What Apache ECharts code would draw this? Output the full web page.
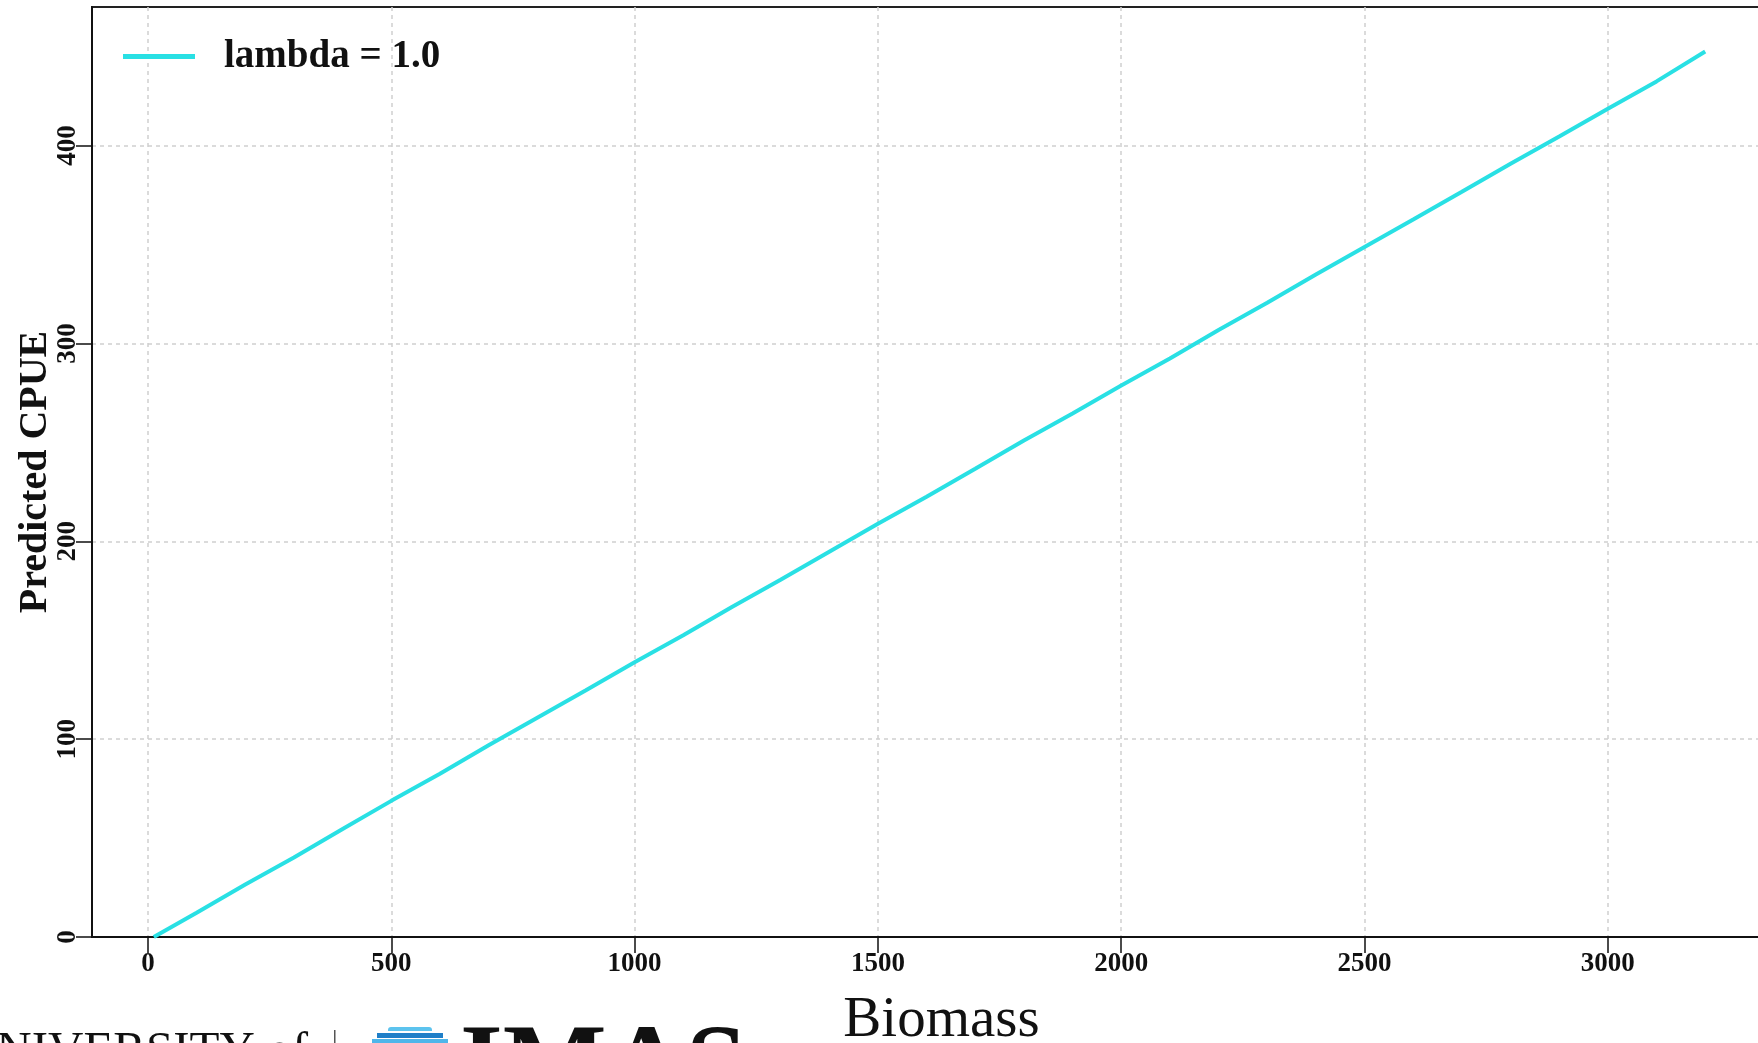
<!DOCTYPE html>
<html>
<head>
<meta charset="utf-8">
<style>
  html, body { margin: 0; padding: 0; background: #ffffff; }
  #chart { width: 1758px; height: 1043px; }
</style>
<script src="https://cdn.jsdelivr.net/npm/echarts@6/dist/echarts.min.js"></script>
</head>
<body>
<div id="chart"></div>
<script>
// ---- data ----
const biomass = [12, 100, 200, 300, 400, 500, 600, 700, 800, 900, 1000, 1100, 1200, 1300, 1400, 1500,
  1600, 1700, 1800, 1900, 2000, 2100, 2200, 2300, 2400, 2500, 2600, 2700, 2800, 2900, 3000, 3100, 3200];
const predictedCPUE = [0, 12.3, 26.5, 40.2, 54.6, 68.8, 82.5, 96.9, 110.8, 124.7, 138.9, 152.5, 166.8, 180.6, 194.7, 208.8,
  222.5, 236.6, 250.9, 264.6, 278.7, 292.4, 306.8, 320.5, 334.8, 348.7, 362.6, 376.6, 390.8, 404.5, 418.6, 432.4, 447.5];
const xTicks = [0, 500, 1000, 1500, 2000, 2500, 3000];
const yTicks = [0, 100, 200, 300, 400];
const seriesName = 'lambda = 1.0';
const xTitle = 'Biomass';
const yTitle = 'Predicted CPUE';

const serif = '"Liberation Serif", "Times New Roman", serif';
const lineColor = '#29E0E4';

const chart = echarts.init(document.getElementById('chart'), null, { renderer: 'canvas' });

chart.setOption({
  backgroundColor: '#ffffff',
  animation: false,
  grid: {
    left: 92, right: -9, top: 7, bottom: 106,
    outerBoundsMode: 'none', containLabel: false,
    show: true, borderColor: '#222', borderWidth: 2, backgroundColor: 'transparent'
  },
  legend: {
    left: 123, top: 37, padding: 0,
    icon: 'rect', itemWidth: 72, itemHeight: 5,
    textStyle: { fontFamily: serif, fontWeight: 'bold', fontSize: 39, color: '#111', padding: [0, 0, 0, 24] },
    data: [seriesName]
  },
  xAxis: {
    type: 'value', min: -115, max: 3327,
    name: xTitle, nameLocation: 'middle', nameGap: 56, nameMoveOverlap: false,
    nameTextStyle: { fontFamily: serif, fontSize: 57, color: '#111', verticalAlign: 'top', padding: [0, 0, 0, 24] },
    axisLine: { show: true, onZero: false, lineStyle: { color: '#111', width: 2 } },
    axisTick: { show: true, length: 16, customValues: xTicks, lineStyle: { color: '#111', width: 1.5 } },
    axisLabel: { customValues: xTicks, margin: 14, fontFamily: serif, fontWeight: 'bold', fontSize: 27, color: '#111',
      formatter: v => String(v) },
    splitLine: { show: true, lineStyle: { color: '#cfcfcf', width: 1.5, type: [4, 4] } }
  },
  yAxis: {
    type: 'value', min: 0, max: 470,
    name: yTitle, nameLocation: 'middle', nameGap: 36, nameRotate: 90, nameMoveOverlap: false,
    nameTextStyle: { fontFamily: serif, fontWeight: 'bold', fontSize: 40, color: '#111' },
    axisLine: { show: true, onZero: false, lineStyle: { color: '#111', width: 2 } },
    axisTick: { show: true, length: 16, customValues: yTicks, lineStyle: { color: '#111', width: 1.5 } },
    axisLabel: { customValues: yTicks, rotate: 90, margin: 10, fontFamily: serif, fontWeight: 'bold', fontSize: 27, color: '#111',
      formatter: v => String(v) },
    splitLine: { show: true, lineStyle: { color: '#cfcfcf', width: 1.5, type: [4, 4] } }
  },
  series: [{
    name: seriesName,
    type: 'line',
    data: biomass.map((b, i) => [b, predictedCPUE[i]]),
    showSymbol: false, symbol: 'none',
    lineStyle: { color: lineColor, width: 4 },
    itemStyle: { color: lineColor }
  }],
  graphic: [
    { type: 'text', style: { text: 'UNIVERSITY of', x: 308, y: 1028, align: 'right', verticalAlign: 'top',
      font: '49px ' + serif, fill: '#111' } },
    { type: 'rect', shape: { x: 334, y: 1030, width: 1.5, height: 13 }, style: { fill: '#555' } },
    { type: 'rect', shape: { x: 388, y: 1027, width: 44, height: 4, r: [3, 3, 0, 0] }, style: { fill: '#5cc3ee' } },
    { type: 'rect', shape: { x: 377, y: 1033, width: 66, height: 5 }, style: { fill: '#1f7fc8' } },
    { type: 'rect', shape: { x: 372, y: 1039, width: 76, height: 4 }, style: { fill: '#4fb6ea' } },
    { type: 'text', style: { text: 'IMAS', x: 460, y: 1017, align: 'left', verticalAlign: 'top',
      font: 'bold 110px ' + serif, fill: '#111' } }
  ]
});
</script>
</body>
</html>
